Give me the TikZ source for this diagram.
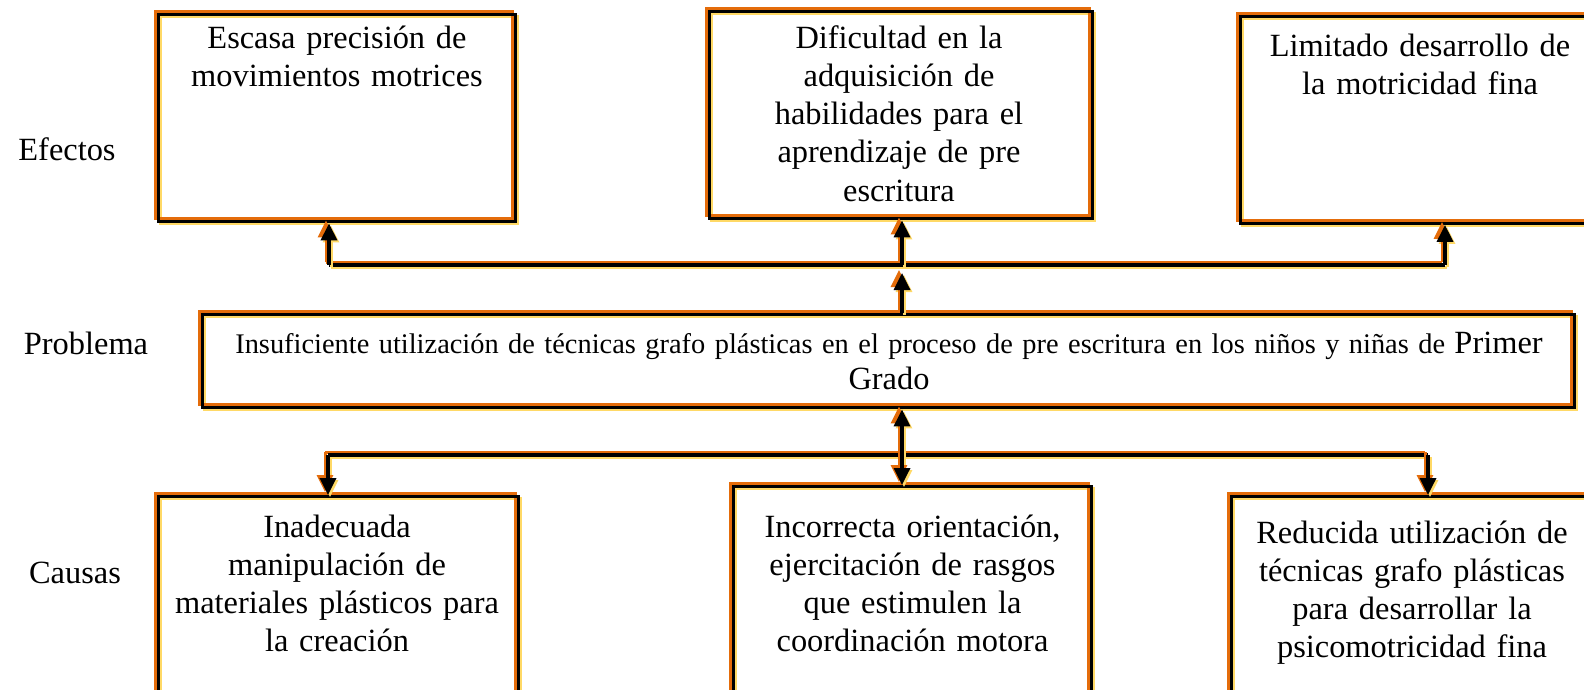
\documentclass[tikz,border=0pt]{standalone}
\usepackage{fontspec}
\setmainfont{Liberation Serif}
\usetikzlibrary{arrows.meta}
\definecolor{orng}{RGB}{228,108,10}
\definecolor{yel}{RGB}{255,217,102}
\tikzset{
  line3d/.style={line width=3.4pt, draw=black, line cap=butt, line join=miter,
    preaction={draw=yel, line width=3pt, transform canvas={shift={(2pt,-2pt)}}},
    preaction={draw=orng, line width=3pt, transform canvas={shift={(-3pt,3pt)}}}},
  box/.style={line3d, rectangle, inner sep=0pt, anchor=north west},
  txt/.style={font=\fontsize{32.4}{38.3}\selectfont, align=center, text width=420pt, inner sep=0pt, anchor=base},
  ptxt/.style={font=\fontsize{28.4}{36.5}\selectfont, align=center, text width=1380pt, inner sep=0pt, anchor=base},
  lbl/.style={font=\fontsize{32.4}{38.3}\selectfont, inner sep=0pt, anchor=base},
  tip/.style={-{Triangle[length=17pt,width=16pt]}},
  dtip/.style={{Triangle[length=17pt,width=16pt]}-{Triangle[length=17pt,width=16pt]}}
}
\begin{document}
\begin{tikzpicture}[x=1pt,y=-1pt]
\useasboundingbox (0,0) rectangle (1584,689);
\fill[white] (0,0) rectangle (1584,689);
\clip (0,0) rectangle (1584,689);

% boxes
\node[box, minimum width=356.5pt, minimum height=207pt] (e1) at (157,13) {};
\node[box, minimum width=383pt, minimum height=207pt] (e2) at (708,10) {};
\node[box, minimum width=356pt, minimum height=206.5pt] (e3) at (1238.5,15) {};
\node[box, minimum width=1372pt, minimum height=93pt] (p) at (201,313) {};
\node[box, minimum width=360pt, minimum height=230pt] (c1) at (157,495) {};
\node[box, minimum width=358pt, minimum height=240pt] (c2) at (732,485) {};
\node[box, minimum width=366pt, minimum height=230pt] (c3) at (1229.5,495) {};

% texts
\node[txt] (e1t) at (337,48) {Escasa precisión de\\movimientos motrices};
\node[txt] (e2t) at (899,48) {Dificultad en la\\adquisición de\\habilidades para el\\aprendizaje de pre\\escritura};
\node[txt] (e3t) at (1420,56) {Limitado desarrollo de\\la motricidad fina};
\node[ptxt] (pt) at (889,353) {Insuficiente utilización de técnicas grafo plásticas en el proceso de pre escritura en los niños y niñas de {\fontsize{32.4}{37.3}\selectfont Primer}\\{\fontsize{32.4}{37.3}\selectfont Grado}};
\node[txt] (c1t) at (337,537) {Inadecuada\\manipulación de\\materiales plásticos para\\la creación};
\node[txt] (c2t) at (912.5,537) {Incorrecta orientación,\\ejercitación de rasgos\\que estimulen la\\coordinación motora};
\node[txt] (c3t) at (1412,543) {Reducida utilización de\\técnicas grafo plásticas\\para desarrollar la\\psicomotricidad fina};

% labels
\node[lbl] (lef) at (67,160) {Efectos};
\node[lbl] (lpr) at (86,354) {Problema};
\node[lbl] (lca) at (75,583) {Causas};

% connector points
\coordinate (tl) at (329,265);
\coordinate (tm) at (902,265);
\coordinate (tr) at (1445,265);
\coordinate (tmt) at (902,273);
\coordinate (bl) at (328,455);
\coordinate (bm) at (902,455);
\coordinate (br) at (1428,455);

% top connectors
\draw[line3d] (tl) -- (tr);
\draw[line3d, tip] (tl) -- (tl |- e1.south);
\draw[line3d, tip] (tm) -- (tm |- e2.south);
\draw[line3d, tip] (tr) -- (tr |- e3.south);
\draw[line3d, tip] (tm |- p.north) -- (tmt);

% bottom connectors
\draw[line3d] (bl) -- (br);
\draw[line3d, tip] (bl) -- (bl |- c1.north);
\draw[line3d, tip] (br) -- (br |- c3.north);
\draw[line3d, dtip] (bm |- p.south) -- (bm |- c2.north);
\end{tikzpicture}
\end{document}
